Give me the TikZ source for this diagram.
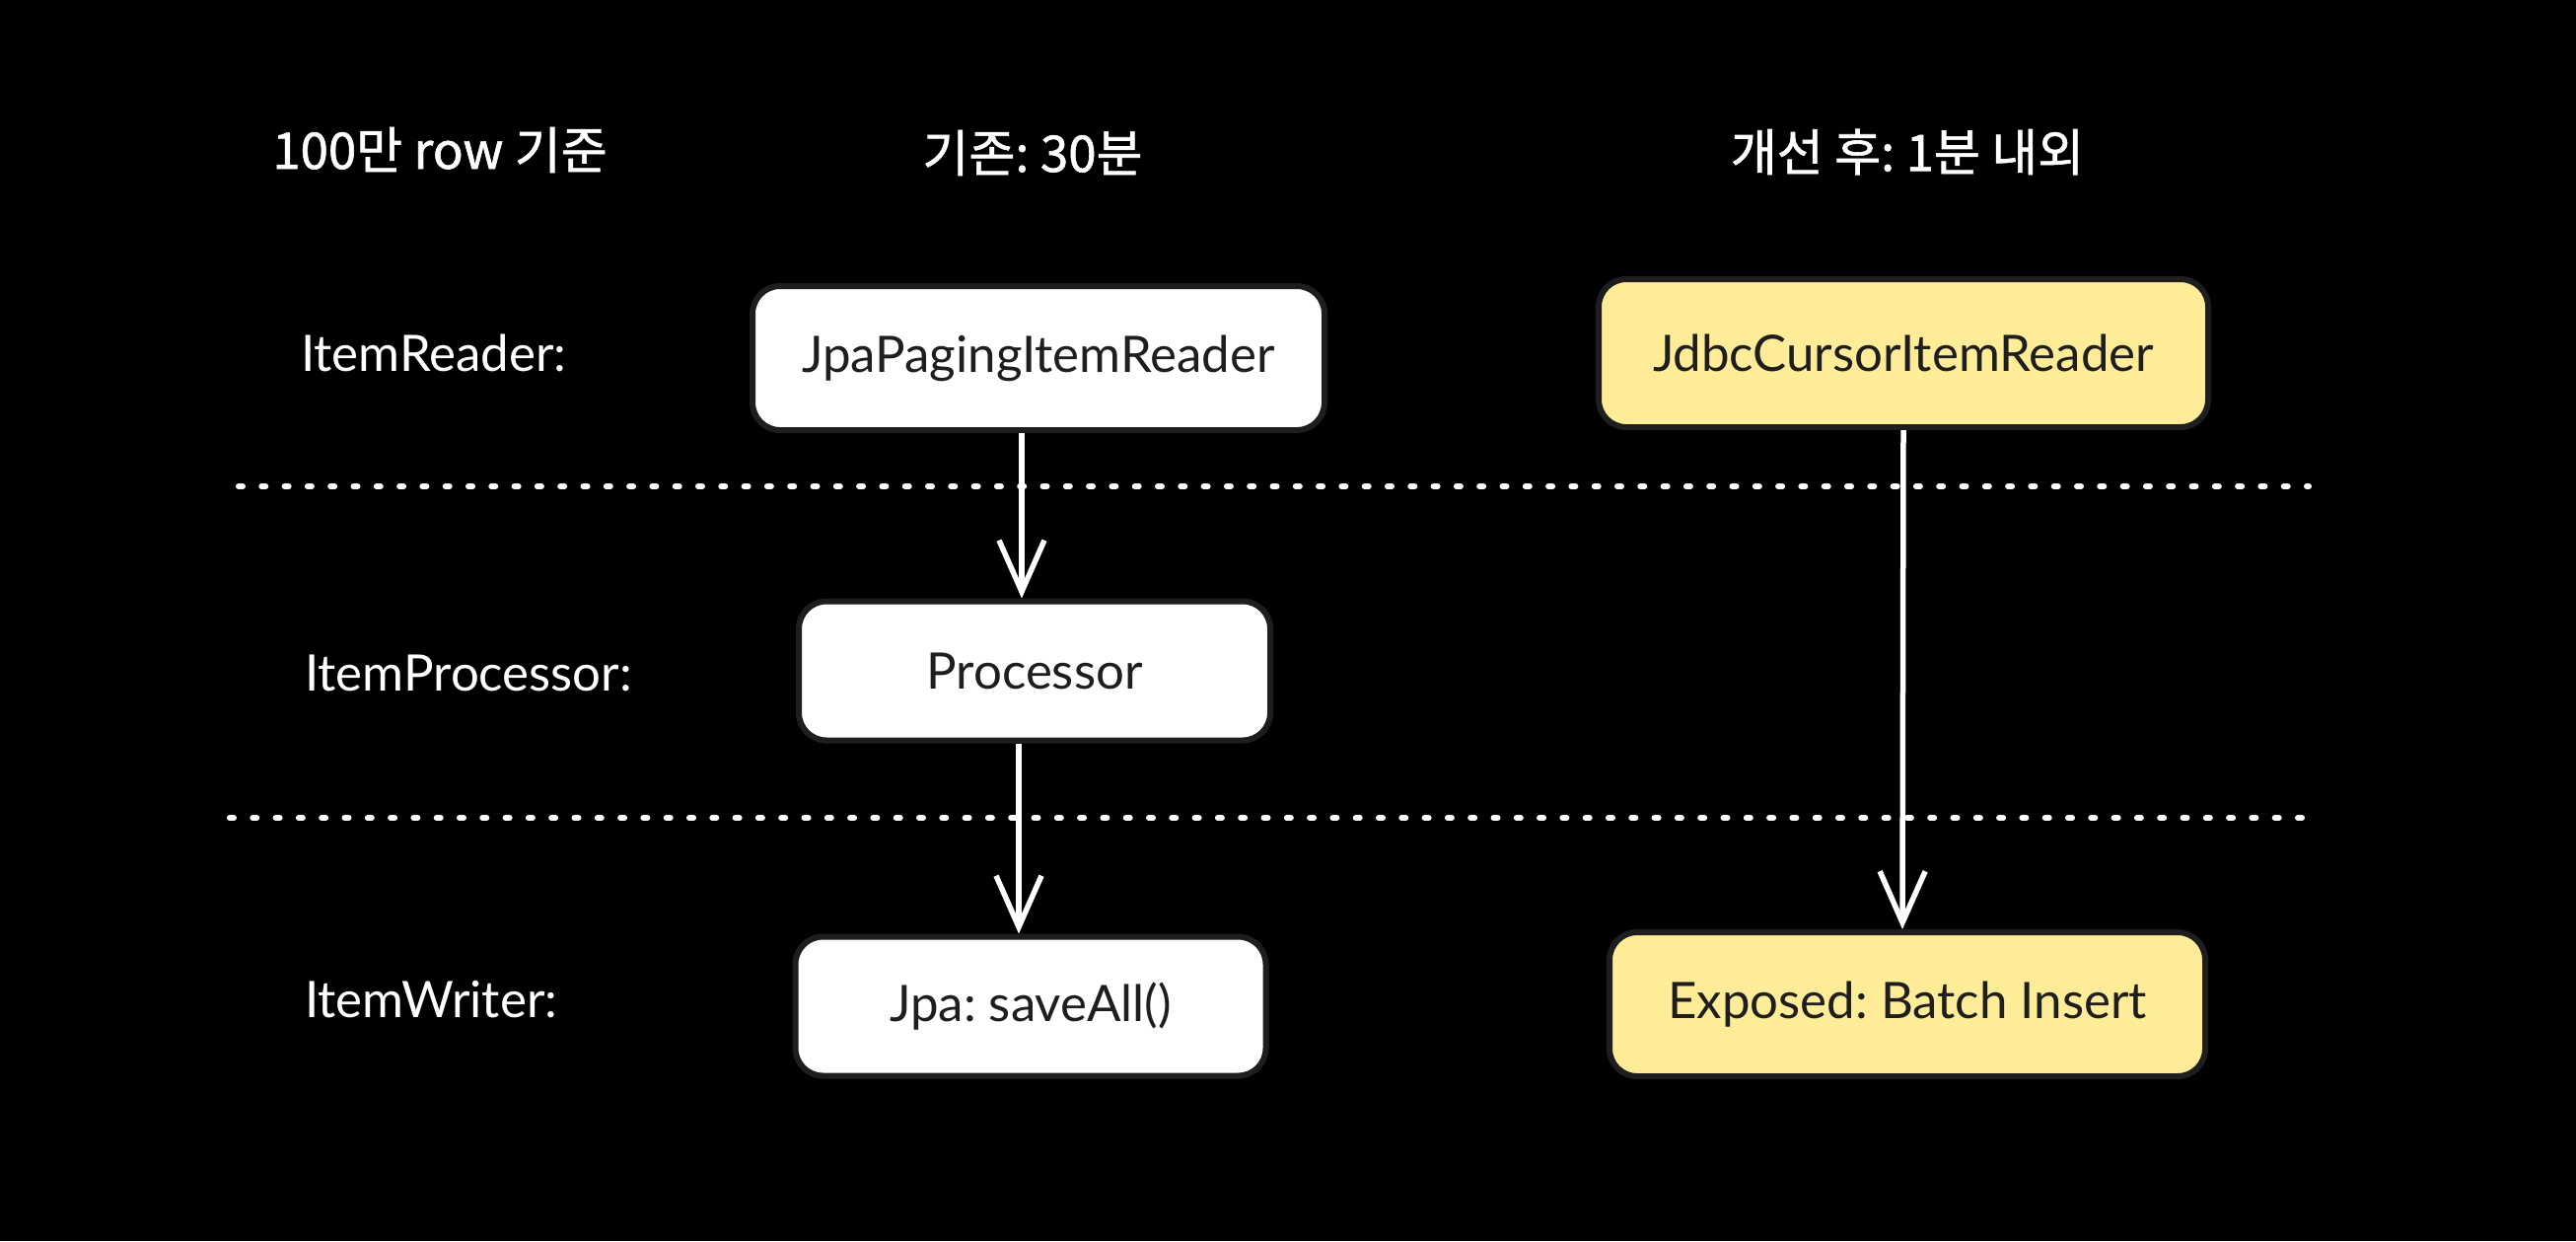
\documentclass[tikz,border=0pt]{standalone}
\usepackage{fontspec}
\setmainfont{Lato}
\newfontfamily\kr{Noto Sans CJK KR}[FakeBold=1.2]
\usetikzlibrary{arrows.meta}
\definecolor{ink}{HTML}{1E1E1E}
\definecolor{yel}{HTML}{FFEC99}
\frenchspacing
\begin{document}
\begin{tikzpicture}[x=1pt,y=-1pt,
  box/.style={draw=ink, line width=6pt, rounded corners=28pt, fill=white, text=ink,
    font=\fontsize{51}{54}\selectfont, inner sep=0pt},
  ybox/.style={box, fill=yel},
  lbl/.style={text=white, font=\fontsize{51}{54}\selectfont, inner sep=0pt, anchor=west},
  ttl/.style={text=white, font=\kr\fontsize{51}{54}\selectfont, inner sep=0pt},
  sep/.style={draw=white, line width=6pt, line cap=round, dash pattern=on 4pt off 19.3pt},
  arr/.style={draw=white, line width=5.5pt, -{Straight Barb[length=52pt,width=46pt,line width=5.5pt]}}]
\fill[black] (0,0) rectangle (2612,1258);
\useasboundingbox (0,0) rectangle (2612,1258);

% titles
\node[ttl] (t1) at (446,152) {100만 row 기준};
\node[ttl] (t2) at (1047,155) {기존: 30분};
\node[ttl] (t3) at (1934,154) {개선 후: 1분 내외};

% row labels
\node[lbl] (l1) at (305,358) {ItemReader:};
\node[lbl] (l2) at (309,682) {ItemProcessor:};
\node[lbl] (l3) at (309,1013) {ItemWriter:};

% separators
\coordinate (s1a) at (242,493);
\coordinate (s1b) at (2341,493);
\coordinate (s2a) at (233,829);
\coordinate (s2b) at (2349,829);
\draw[sep] (s1a) -- (s1b);
\draw[sep] (s2a) -- (s2b);

% boxes
\node[box, minimum width=580pt, minimum height=146pt] (jpr) at (1053,363) {JpaPagingItemReader};
\node[ybox, minimum width=618pt, minimum height=150pt] (jcr) at (1930,358) {JdbcCursorItemReader};
\node[box, minimum width=478pt, minimum height=141pt] (proc) at (1049,680) {Processor};
\node[box, minimum width=477pt, minimum height=141pt] (save) at (1045,1020) {Jpa: saveAll()};
\node[ybox, minimum width=604pt, minimum height=146pt] (exp) at (1934,1018) {Exposed: Batch Insert};

% arrows
\draw[arr] ([xshift=-17pt]jpr.south) -- ([xshift=-13pt]proc.north);
\draw[arr] ([xshift=-16pt]proc.south) -- ([xshift=-12pt]save.north);
\draw[arr] (jcr.south) -- ([xshift=-5pt]exp.north);
\end{tikzpicture}
\end{document}
